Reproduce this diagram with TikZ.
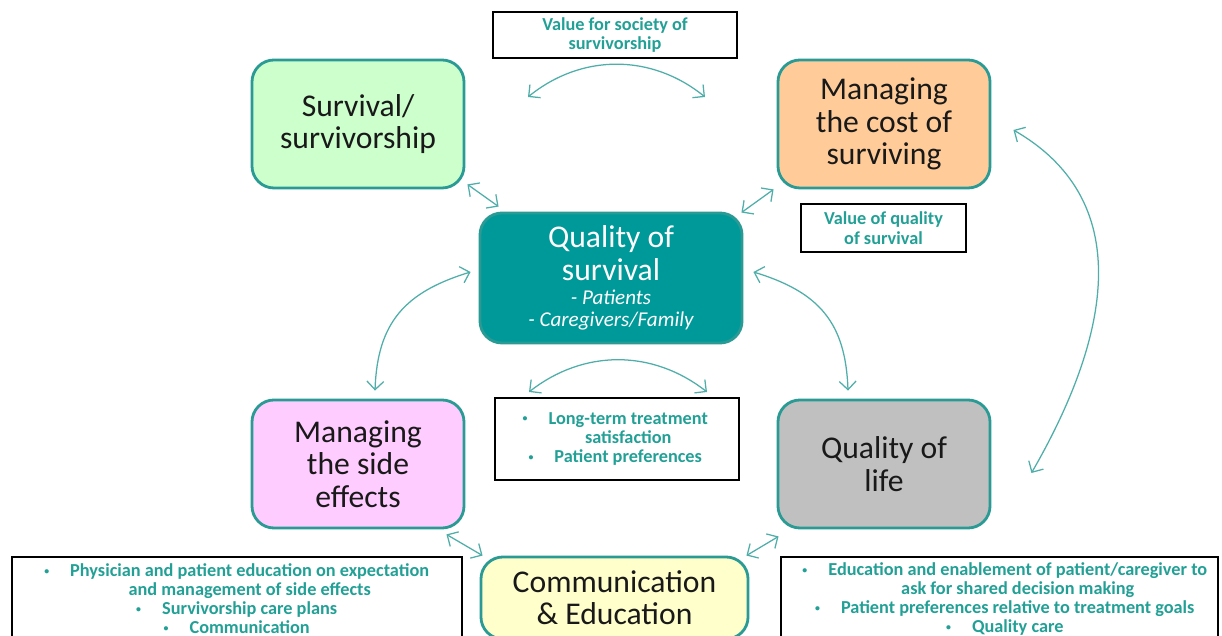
\documentclass[tikz,border=0pt]{standalone}
\usepackage{fontspec}
\setmainfont{Carlito}
\usetikzlibrary{arrows.meta}

\definecolor{edgecol}{HTML}{2A9A94}
\definecolor{linkcol}{HTML}{4FAEA9}
\definecolor{notecol}{HTML}{22A096}
\definecolor{qoscol}{HTML}{009999}
\definecolor{survcol}{HTML}{CCFFCC}
\definecolor{costcol}{HTML}{FFCC99}
\definecolor{sidecol}{HTML}{FFCCFF}
\definecolor{qolcol}{HTML}{C0C0C0}
\definecolor{commcol}{HTML}{FFFFCC}

\newcommand{\itm}{\llap{\raisebox{0.25ex}{\fontsize{7}{7}\selectfont\textbullet}\hspace{1.15em}}}

\begin{document}
\begin{tikzpicture}[x=0.025cm, y=0.025cm,
	box/.style={draw=edgecol, line width=2pt, rounded corners=0.55cm, minimum width=5.3cm, minimum height=3.2cm, align=center, text=black!90, font=\fontsize{22.5}{23}\selectfont},
	note/.style={draw=black, line width=1.7pt, align=center, text=notecol, inner sep=0pt, font=\bfseries\fontsize{13}{14}\selectfont},
	link/.style={draw=linkcol, line width=0.9pt, {Straight Barb[length=6pt,width=12pt]}-{Straight Barb[length=6pt,width=12pt]}}]
	\useasboundingbox (0,0) rectangle (1222,636);

	\draw (358,512) node[box, fill=survcol] (surv) {Survival/\\survivorship} ;
	\draw (884,512) node[box, fill=costcol] (cost) {Managing\\the cost of\\surviving} ;
	\draw (611,358) node[box, fill=qoscol, text=white, minimum width=6.55cm, minimum height=3.25cm] (qos) {Quality of\\survival\\[-5.5pt]{\fontsize{15}{16}\selectfont\itshape - Patients}\\[-7.5pt]{\fontsize{15}{16}\selectfont\itshape - Caregivers/Family}} ;
	\draw (358,172) node[box, fill=sidecol] (side) {Managing\\the side\\effects} ;
	\draw (884,172) node[box, fill=qolcol] (qol) {Quality of\\life} ;
	\draw (614.5,38) node[box, fill=commcol, minimum width=6.675cm, minimum height=2.05cm] (comm) {Communication\\\& Education} ;

	\draw (615,601) node[note, minimum width=6.1cm, minimum height=1.15cm] (society) {Value for society of\\survivorship} ;
	\draw (883.5,408) node[note, minimum width=4.125cm, minimum height=1.2cm] (value) {Value of quality\\of survival} ;
	\draw (617,197) node[note, minimum width=6.1cm, minimum height=2.05cm, font=\bfseries\fontsize{13}{13.8}\selectfont] (longterm) {\hspace*{16pt}\itm Long-term treatment\\\hspace*{16pt}satisfaction\\\hspace*{16pt}\itm Patient preferences} ;
	\draw (237,37) node[note, minimum width=11.25cm, minimum height=2.1cm, font=\bfseries\fontsize{13}{13.5}\selectfont] (sidenote) {\hspace*{18pt}\itm Physician and patient education on expectation\\\hspace*{18pt}and management of side effects\\\hspace*{18pt}\itm Survivorship care plans\\\hspace*{18pt}\itm Communication} ;
	\draw (999.5,37) node[note, minimum width=10.925cm, minimum height=2.1cm, font=\bfseries\fontsize{13}{13.5}\selectfont] (qolnote) {\hspace*{26pt}\itm Education and enablement of patient/caregiver to\\\hspace*{26pt}ask for shared decision making\\\hspace*{26pt}\itm Patient preferences relative to treatment goals\\\hspace*{26pt}\itm Quality care} ;

	\coordinate (topL) at (528,539);
	\coordinate (topR) at (705,539);
	\coordinate (midL) at (529,244);
	\coordinate (midR) at (707,244);

	\draw [link] (topL) to[bend left=39] (topR);
	\draw [link] (midL) to[bend left=38] (midR);
	\draw [link] ([shift={(2,5)}]surv.south east) -- ([shift={(20,5)}]qos.north west);
	\draw [link] ([shift={(-3,0)}]cost.south west) -- ([shift={(-2,-1)}]qos.north east);
	\draw [link] ([shift={(-8,6)}]qos.west) to[out=197, in=88, looseness=1.15] ([shift={(17,8)}]side.north);
	\draw [link] ([shift={(10,6)}]qos.east) to[out=-17, in=92, looseness=1.15] ([shift={(-36,8)}]qol.north);
	\draw [link] ([shift={(22,-6)}]cost.east) to[out=-30, in=60, looseness=1.1] ([shift={(40,-9)}]qol.east);
	\draw [link] ([shift={(-19,-5)}]side.south east) -- ([shift={(3,0)}]comm.north west);
	\draw [link] ([shift={(2,-7)}]qol.south west) -- ([shift={(-3,0)}]comm.north east);
\end{tikzpicture}
\end{document}
